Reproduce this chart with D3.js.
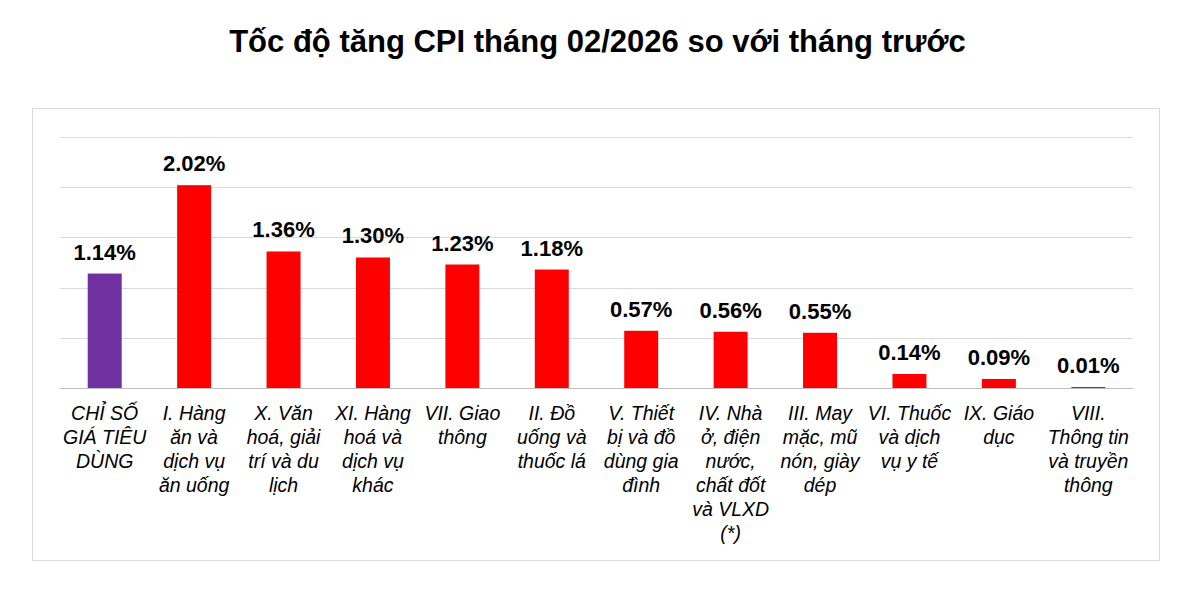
<!DOCTYPE html>
<html>
<head>
<meta charset="utf-8">
<script src="https://cdn.jsdelivr.net/npm/d3@7"></script>
<style>
  body { margin: 0; background: #fff; }
  text { font-family: "Liberation Sans", Arial, sans-serif; }
</style>
</head>
<body>
<div id="chart"></div>
<script>
// Data
const categories = [
  ['CHỈ SỐ', 'GIÁ TIÊU', 'DÙNG'],
  ['I. Hàng', 'ăn và', 'dịch vụ', 'ăn uống'],
  ['X. Văn', 'hoá, giải', 'trí và du', 'lịch'],
  ['XI. Hàng', 'hoá và', 'dịch vụ', 'khác'],
  ['VII. Giao', 'thông'],
  ['II. Đồ', 'uống và', 'thuốc lá'],
  ['V. Thiết', 'bị và đồ', 'dùng gia', 'đình'],
  ['IV. Nhà', 'ở, điện', 'nước,', 'chất đốt', 'và VLXD', '(*)'],
  ['III. May', 'mặc, mũ', 'nón, giày', 'dép'],
  ['VI. Thuốc', 'và dịch', 'vụ y tế'],
  ['IX. Giáo', 'dục'],
  ['VIII.', 'Thông tin', 'và truyền', 'thông']
]
const values = [1.14, 2.02, 1.36, 1.30, 1.23, 1.18, 0.57, 0.56, 0.55, 0.14, 0.09, 0.01]
const gridTicks = [0, 0.5, 1, 1.5, 2, 2.5]

const width = 1195, height = 615

const svg = d3.select('#chart').append('svg')
  .attr('width', width).attr('height', height)

svg.append('text')
  .attr('x', width / 2).attr('y', 52)
  .attr('text-anchor', 'middle')
  .attr('font-size', 31).attr('font-weight', 'bold')
  .text('Tốc độ tăng CPI tháng 02/2026 so với tháng trước')

// frame
svg.append('rect')
  .attr('x', 32.5).attr('y', 108.5).attr('width', 1127).attr('height', 452)
  .attr('fill', 'none').attr('stroke', '#d9d9d9')

const idx = d3.range(values.length)
const x = d3.scaleBand().domain(idx).range([60, 1133]).paddingInner(0.62).paddingOuter(0.31)
const y = d3.scaleLinear().domain([0, 2.5]).range([388, 137])

svg.selectAll('line.grid')
  .data(gridTicks.slice(1))
  .enter().append('line')
  .attr('x1', 60).attr('x2', 1133)
  .attr('y1', d => Math.round(y(d)) + 0.5).attr('y2', d => Math.round(y(d)) + 0.5)
  .attr('stroke', '#d9d9d9')

svg.selectAll('rect.bar')
  .data(values)
  .enter().append('rect')
  .attr('x', (d, i) => x(i))
  .attr('width', x.bandwidth())
  .attr('y', d => y(d))
  .attr('height', d => y(0) - y(d))
  .attr('fill', (d, i) => i === 0 ? '#7030A0' : '#FF0000')

svg.append('line')
  .attr('x1', 60).attr('x2', 1133)
  .attr('y1', 388.5).attr('y2', 388.5)
  .attr('stroke', '#bfbfbf')

svg.selectAll('text.val')
  .data(values)
  .enter().append('text')
  .attr('x', (d, i) => x(i) + x.bandwidth() / 2)
  .attr('y', d => y(d) - 14)
  .attr('text-anchor', 'middle')
  .attr('font-size', 22).attr('font-weight', 'bold')
  .text(d => d.toFixed(2) + '%')

categories.forEach((lines, i) => {
  const t = svg.append('text')
    .attr('text-anchor', 'middle')
    .attr('font-size', 19.5).attr('font-style', 'italic')
  lines.forEach((l, j) => {
    t.append('tspan')
      .attr('x', x(i) + x.bandwidth() / 2)
      .attr('y', 420 + j * 24)
      .text(l)
  })
})
</script>
</body>
</html>
